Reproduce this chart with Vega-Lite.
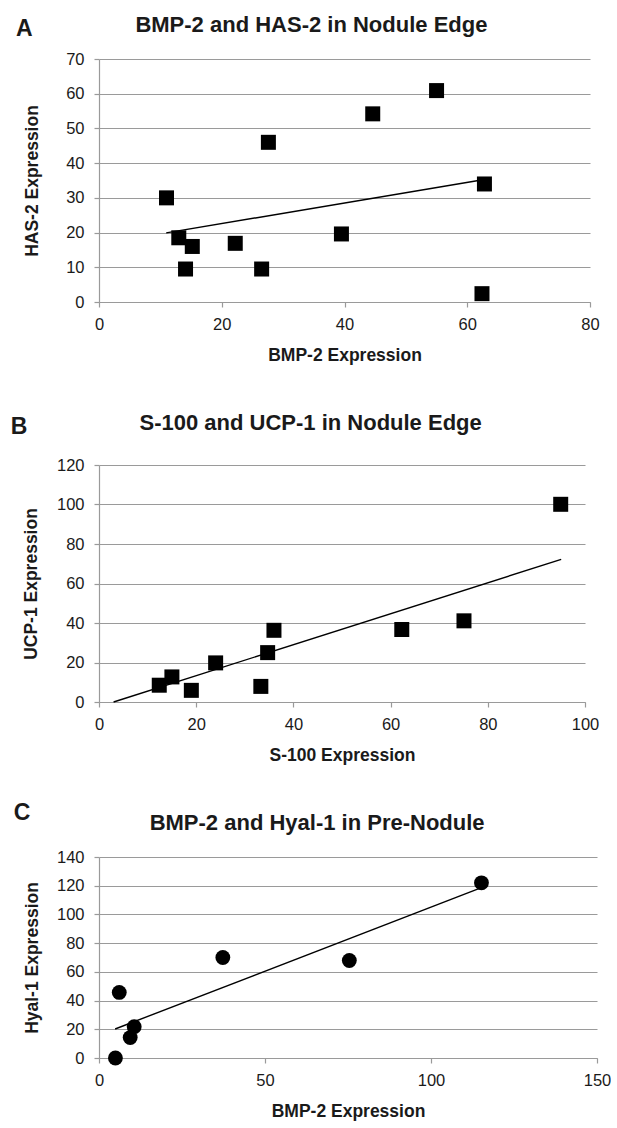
{
  "$schema": "https://vega.github.io/schema/vega-lite/v6.json",
  "background": "white",
  "padding": {"left": 10, "top": 14, "right": 0, "bottom": 3},
  "config": {
    "font": "Liberation Sans",
    "view": {"stroke": null},
    "axis": {
      "gridColor": "#9a9a9a", "gridWidth": 1.2,
      "domainColor": "#9a9a9a", "domainWidth": 1.2,
      "tickColor": "#9a9a9a", "tickWidth": 1.2, "tickSize": 5,
      "labelFont": "Liberation Sans", "labelFontSize": 16.5, "labelColor": "#1a1a1a", "labelPadding": 10,
      "labelOverlap": false, "labelFlush": false,
      "titleFont": "Liberation Sans", "titleFontSize": 17.5, "titleFontWeight": "bold", "titleColor": "#1a1a1a"
    },
    "axisX": {"grid": false, "labelPadding": 9, "titlePadding": 14},
    "title": {"font": "Liberation Sans", "fontSize": 22, "fontWeight": "bold", "color": "#1a1a1a"}
  },
  "datasets": {
    "a_points": [
      {"bmp2": 11.0, "has2": 30.0},
      {"bmp2": 13.0, "has2": 18.5},
      {"bmp2": 15.2, "has2": 16.0},
      {"bmp2": 14.1, "has2": 9.5},
      {"bmp2": 22.2, "has2": 16.9},
      {"bmp2": 26.5, "has2": 9.5},
      {"bmp2": 27.6, "has2": 46.0},
      {"bmp2": 39.5, "has2": 19.6},
      {"bmp2": 44.6, "has2": 54.2},
      {"bmp2": 55.0, "has2": 60.9},
      {"bmp2": 62.8, "has2": 34.0},
      {"bmp2": 62.4, "has2": 2.4}
    ],
    "a_trend": [
      {"bmp2": 10.95, "has2": 19.9},
      {"bmp2": 62.8, "has2": 35.3}
    ],
    "b_points": [
      {"s100": 12.4, "ucp1": 8.5},
      {"s100": 15.0, "ucp1": 12.7},
      {"s100": 19.0, "ucp1": 5.9},
      {"s100": 24.0, "ucp1": 19.8},
      {"s100": 33.3, "ucp1": 7.9},
      {"s100": 34.7, "ucp1": 25.0},
      {"s100": 36.0, "ucp1": 36.3},
      {"s100": 62.3, "ucp1": 36.7},
      {"s100": 75.1, "ucp1": 41.1},
      {"s100": 95.0, "ucp1": 100.1}
    ],
    "b_trend": [
      {"s100": 3.0, "ucp1": 0},
      {"s100": 95.1, "ucp1": 72.2}
    ],
    "c_points": [
      {"bmp2": 4.95, "hyal1": 0},
      {"bmp2": 6.1, "hyal1": 45.7},
      {"bmp2": 9.4, "hyal1": 14.2},
      {"bmp2": 10.6, "hyal1": 21.8},
      {"bmp2": 37.3, "hyal1": 70.0},
      {"bmp2": 75.4, "hyal1": 67.9},
      {"bmp2": 115.2, "hyal1": 122.0}
    ],
    "c_trend": [
      {"bmp2": 4.85, "hyal1": 20.2},
      {"bmp2": 114.8, "hyal1": 118.3}
    ]
  },
  "columns": 1,
  "align": "none",
  "spacing": 48,
  "concat": [
    {
      "title": {"text": "A", "orient": "left", "anchor": "end", "frame": "bounds", "angle": 0, "align": "left", "baseline": "top", "fontSize": 23, "offset": -9, "dy": 4},
      "vconcat": [
        {
          "title": {"text": "BMP-2 and HAS-2 in Nodule Edge", "anchor": "middle", "frame": "bounds", "offset": 14},
          "width": 491,
          "height": 243,
          "encoding": {
            "x": {"field": "bmp2", "type": "quantitative", "scale": {"domain": [0, 80]}, "axis": {"values": [0, 20, 40, 60, 80], "title": "BMP-2 Expression"}},
            "y": {"field": "has2", "type": "quantitative", "scale": {"domain": [0, 70]}, "axis": {"values": [0, 10, 20, 30, 40, 50, 60, 70], "title": "HAS-2 Expression", "titlePadding": 24}}
          },
          "layer": [
            {
              "data": {"name": "a_trend"},
              "mark": {"type": "line", "color": "black", "strokeWidth": 1.4}
            },
            {
              "data": {"name": "a_points"},
              "mark": {"type": "square", "color": "black", "size": 225, "opacity": 1}
            }
          ]
        }
      ]
    },
    {
      "spacing": 38,
      "vconcat": [
        {
          "title": {"text": "B", "orient": "left", "anchor": "end", "frame": "bounds", "angle": 0, "align": "left", "baseline": "top", "fontSize": 23, "offset": -5, "dy": 4},
          "vconcat": [
            {
              "title": {"text": "S-100 and UCP-1 in Nodule Edge", "anchor": "middle", "frame": "bounds", "offset": 22},
              "width": 486,
              "height": 237,
              "encoding": {
                "x": {"field": "s100", "type": "quantitative", "scale": {"domain": [0, 100]}, "axis": {"values": [0, 20, 40, 60, 80, 100], "title": "S-100 Expression"}},
                "y": {"field": "ucp1", "type": "quantitative", "scale": {"domain": [0, 120]}, "axis": {"values": [0, 20, 40, 60, 80, 100, 120], "title": "UCP-1 Expression", "titlePadding": 16}}
              },
              "layer": [
                {
                  "data": {"name": "b_trend"},
                  "mark": {"type": "line", "color": "black", "strokeWidth": 1.4}
                },
                {
                  "data": {"name": "b_points"},
                  "mark": {"type": "square", "color": "black", "size": 225, "opacity": 1}
                }
              ]
            }
          ]
        },
        {
          "title": {"text": "C", "orient": "left", "anchor": "end", "frame": "bounds", "angle": 0, "align": "left", "baseline": "top", "fontSize": 23, "offset": -7, "dy": -10},
          "vconcat": [
            {
              "title": {"text": "BMP-2 and Hyal-1 in Pre-Nodule", "anchor": "middle", "frame": "bounds", "offset": 14},
              "width": 498,
              "height": 201,
              "encoding": {
                "x": {"field": "bmp2", "type": "quantitative", "scale": {"domain": [0, 150]}, "axis": {"values": [0, 50, 100, 150], "title": "BMP-2 Expression"}},
                "y": {"field": "hyal1", "type": "quantitative", "scale": {"domain": [0, 140]}, "axis": {"values": [0, 20, 40, 60, 80, 100, 120, 140], "title": "Hyal-1 Expression", "titlePadding": 15}}
              },
              "layer": [
                {
                  "data": {"name": "c_trend"},
                  "mark": {"type": "line", "color": "black", "strokeWidth": 1.4}
                },
                {
                  "data": {"name": "c_points"},
                  "mark": {"type": "circle", "color": "black", "size": 220, "opacity": 1}
                }
              ]
            }
          ]
        }
      ]
    }
  ]
}
